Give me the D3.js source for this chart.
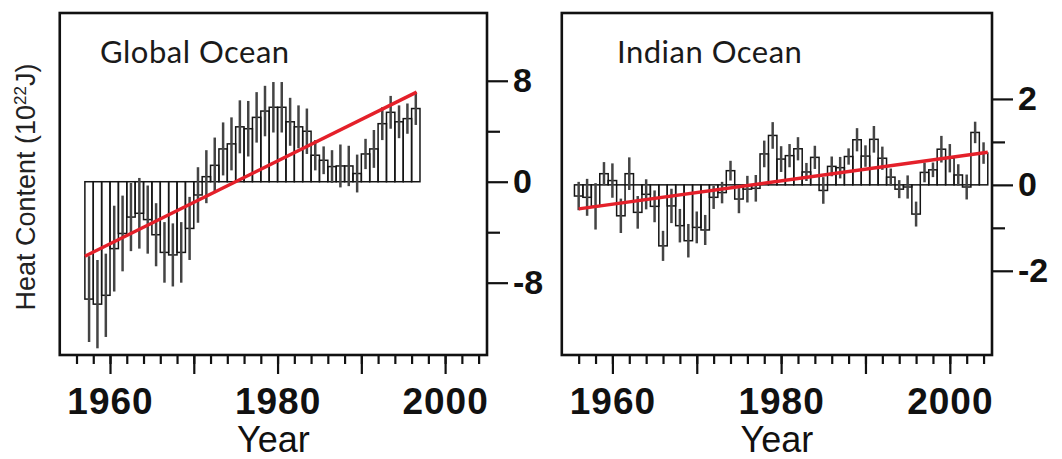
<!DOCTYPE html>
<html>
<head>
<meta charset="utf-8">
<script src="https://cdn.jsdelivr.net/npm/d3@7"></script>
<style>
  body { margin: 0; background: #fff; }
  svg { display: block; }
</style>
</head>
<body>
<div id="chart"></div>
<script>
// ---- data ----
var globalYears = [1957, 1958, 1959, 1960, 1961, 1962, 1963, 1964, 1965, 1966,
                   1967, 1968, 1969, 1970, 1971, 1972, 1973, 1974, 1975, 1976,
                   1977, 1978, 1979, 1980, 1981, 1982, 1983, 1984, 1985, 1986,
                   1987, 1988, 1989, 1990, 1991, 1992, 1993, 1994, 1995, 1996];
var globalValues = [-9.3, -9.7, -9.0, -5.3, -4.1, -2.8, -2.5, -3.0, -4.2, -5.6,
                    -5.8, -5.6, -3.7, -1.05, 0.4, 1.3, 2.6, 3.0, 4.35, 4.2,
                    5.1, 5.6, 5.9, 5.9, 4.75, 4.35, 4.0, 2.1, 1.7, 1.2,
                    1.25, 1.25, 0.65, 2.2, 2.6, 4.6, 5.5, 4.75, 5.0, 5.8];
var globalErrors = [3.4, 3.5, 3.3, 3.4, 3.0, 2.7, 2.8, 2.7, 2.5, 2.4,
                    2.5, 2.4, 2.5, 2.2, 2.1, 2.2, 2.1, 2.1, 2.1, 2.2,
                    2.0, 2.0, 2.0, 2.0, 1.9, 1.7, 1.8, 1.2, 1.1, 1.3,
                    1.7, 1.6, 1.5, 1.2, 1.5, 1.3, 1.3, 1.3, 1.2, 1.3];
var globalTrendYears = [1957, 1996.6];
var globalTrendValues = [-5.9, 7.1];

var indianYears = [1956, 1957, 1958, 1959, 1960, 1961, 1962, 1963, 1964, 1965,
                   1966, 1967, 1968, 1969, 1970, 1971, 1972, 1973, 1974, 1975,
                   1976, 1977, 1978, 1979, 1980, 1981, 1982, 1983, 1984, 1985,
                   1986, 1987, 1988, 1989, 1990, 1991, 1992, 1993, 1994, 1995,
                   1996, 1997, 1998, 1999, 2000, 2001, 2002, 2003, 2004];
var indianValues = [-0.26, -0.29, -0.5, 0.26, 0.1, -0.72, 0.26, -0.64, -0.22, -0.5,
                    -1.42, -0.49, -0.95, -1.3, -0.99, -1.05, -0.29, -0.18, 0.33, -0.33,
                    -0.1, -0.08, 0.72, 1.15, 0.6, 0.68, 0.84, 0.3, 0.64, -0.13,
                    0.43, 0.4, 0.66, 1.05, 0.67, 1.06, 0.62, 0.18, -0.1, -0.05,
                    -0.68, 0.29, 0.35, 0.83, 0.62, 0.23, -0.05, 1.22, 0.74];
var indianErrors = [0.33, 0.43, 0.54, 0.27, 0.4, 0.4, 0.38, 0.38, 0.35, 0.37,
                    0.35, 0.4, 0.39, 0.39, 0.37, 0.35, 0.27, 0.25, 0.23, 0.33,
                    0.31, 0.31, 0.31, 0.31, 0.3, 0.27, 0.27, 0.21, 0.27, 0.31,
                    0.23, 0.25, 0.19, 0.27, 0.25, 0.31, 0.27, 0.2, 0.21, 0.27,
                    0.29, 0.23, 0.17, 0.31, 0.33, 0.25, 0.29, 0.25, 0.25];
var indianTrendYears = [1956, 2004.5];
var indianTrendValues = [-0.56, 0.76];

var yearMinorTicks = [1956, 1958, 1960, 1962, 1964, 1966, 1968, 1970, 1972, 1974,
                      1976, 1978, 1980, 1982, 1984, 1986, 1988, 1990, 1992, 1994,
                      1996, 1998, 2000, 2002, 2004];
var yearMajorTicks = [1960, 1970, 1980, 1990, 2000];
var yearLabels = [1960, 1980, 2000];

var globalMajorTicks = [-8, 0, 8];
var globalMinorTicks = [-4, 4];
var indianMajorTicks = [-2, 0, 2];
var indianMinorTicks = [-1, 1];

// ---- layout ----
var width = 1062, height = 459;
var plotTop = 13, plotBottom = 355;

var svg = d3.select("#chart")
    .append("svg")
        .attr("width", width)
        .attr("height", height);

var boldFont = "'Liberation Sans', Arial, sans-serif";

function panel(opt) {

    var x = d3.scaleLinear()
        .domain([1954, 2005])
        .range([opt.left, opt.right]);

    var y = d3.scaleLinear()
        .domain(opt.yDomain)
        .range([plotBottom, plotTop]);

    var g = svg.append("g");

    var data = opt.years.map(function(d, i) {
        return {year: d, value: opt.values[i], err: opt.errors[i]};
    });

    // bars (outlined boxes from zero)
    g.selectAll("rect.bar")
        .data(data)
      .enter().append("rect")
        .attr("class", "bar")
        .attr("x", function(d) { return x(d.year + opt.shift); })
        .attr("width", function(d) { return x(d.year + opt.shift + 1) - x(d.year + opt.shift); })
        .attr("y", function(d) { return Math.min(y(d.value), y(0)); })
        .attr("height", function(d) { return Math.abs(y(d.value) - y(0)); })
        .attr("fill", "none")
        .attr("stroke", "#151515")
        .attr("stroke-width", 1.5);

    // error bars
    g.selectAll("line.err")
        .data(data)
      .enter().append("line")
        .attr("class", "err")
        .attr("x1", function(d) { return x(d.year + opt.shift + 0.5); })
        .attr("x2", function(d) { return x(d.year + opt.shift + 0.5); })
        .attr("y1", function(d) { return y(d.value - d.err); })
        .attr("y2", function(d) { return y(d.value + d.err); })
        .attr("stroke", "#444")
        .attr("stroke-width", 2.5);

    // trend line
    var trend = opt.trendYears.map(function(d, i) { return [d, opt.trendValues[i]]; });
    g.append("path")
        .datum(trend)
        .attr("d", d3.line()
            .x(function(d) { return x(d[0]); })
            .y(function(d) { return y(d[1]); }))
        .attr("fill", "none")
        .attr("stroke", "#e4202a")
        .attr("stroke-width", 3.4);

    // frame
    g.append("rect")
        .attr("x", opt.left)
        .attr("y", plotTop)
        .attr("width", opt.right - opt.left)
        .attr("height", plotBottom - plotTop)
        .attr("fill", "none")
        .attr("stroke", "#111")
        .attr("stroke-width", 2.6);

    // x axis: minor and major ticks
    var xMinor = g.append("g")
        .attr("transform", "translate(0," + plotBottom + ")")
        .call(d3.axisBottom(x).tickValues(yearMinorTicks).tickSize(9).tickFormat(""));
    var xMajor = g.append("g")
        .attr("transform", "translate(0," + plotBottom + ")")
        .call(d3.axisBottom(x).tickValues(yearMajorTicks).tickSize(19).tickPadding(14)
            .tickFormat(function(d) { return yearLabels.indexOf(d) >= 0 ? d : ""; }));
    [xMinor, xMajor].forEach(function(a) {
        a.select(".domain").remove();
        a.selectAll("line").attr("stroke", "#111").attr("stroke-width", 2.2);
    });
    xMajor.selectAll("text")
        .attr("fill", "#111")
        .style("font-family", boldFont)
        .style("font-weight", "bold")
        .style("font-size", "37px")
        .style("letter-spacing", "1px");

    // y axis on the right
    var yMinor = g.append("g")
        .attr("transform", "translate(" + opt.right + ",0)")
        .call(d3.axisRight(y).tickValues(opt.minorTicks).tickSize(13).tickFormat(""));
    var yMajor = g.append("g")
        .attr("transform", "translate(" + opt.right + ",0)")
        .call(d3.axisRight(y).tickValues(opt.majorTicks).tickSize(21).tickPadding(5)
            .tickFormat(function(d) { return d < 0 ? "-" + Math.abs(d) : d; }));
    [yMinor, yMajor].forEach(function(a) {
        a.select(".domain").remove();
        a.selectAll("line").attr("stroke", "#111").attr("stroke-width", 2.2);
    });
    yMajor.selectAll("text")
        .attr("fill", "#111")
        .style("font-family", boldFont)
        .style("font-weight", "bold")
        .style("font-size", "34px");

    // panel title
    g.append("text")
        .attr("x", opt.titleX)
        .attr("y", 63)
        .attr("fill", "#1a1a1a")
        .style("font-family", "Lato, 'Open Sans', sans-serif")
        .style("font-size", "31px")
        .style("letter-spacing", "0.5px")
        .text(opt.title);

    // x axis title
    g.append("text")
        .attr("x", (opt.left + opt.right) / 2)
        .attr("y", 452)
        .attr("text-anchor", "middle")
        .attr("fill", "#111")
        .style("font-family", boldFont)
        .style("font-size", "36px")
        .text("Year");
}

panel({
    left: 59.75, right: 487, yDomain: [-13.73, 13.37],
    years: globalYears, values: globalValues, errors: globalErrors, shift: 0,
    trendYears: globalTrendYears, trendValues: globalTrendValues,
    majorTicks: globalMajorTicks, minorTicks: globalMinorTicks,
    title: "Global Ocean", titleX: 100
});

panel({
    left: 561.8, right: 992, yDomain: [-3.96, 4.0],
    years: indianYears, values: indianValues, errors: indianErrors, shift: -0.5,
    trendYears: indianTrendYears, trendValues: indianTrendValues,
    majorTicks: indianMajorTicks, minorTicks: indianMinorTicks,
    title: "Indian Ocean", titleX: 617
});

// y axis title
var ylab = svg.append("text")
    .attr("transform", "translate(35,187) rotate(-90)")
    .attr("text-anchor", "middle")
    .attr("fill", "#222")
    .style("font-family", boldFont)
    .style("font-size", "27px");
ylab.append("tspan").text("Heat Content (10");
ylab.append("tspan").attr("dy", -9).style("font-size", "17px").text("22");
ylab.append("tspan").attr("dy", 9).text("J)");
</script>
</body>
</html>
